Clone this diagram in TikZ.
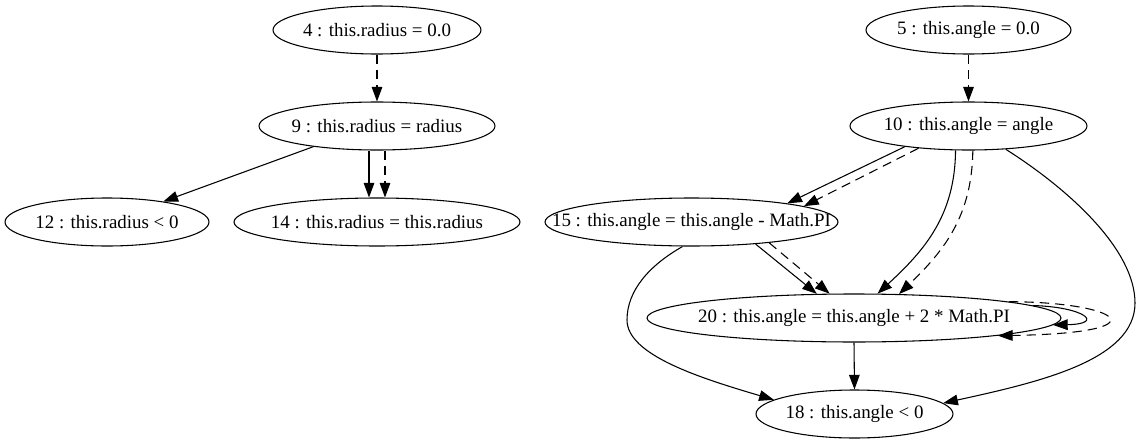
\documentclass[tikz,border=0pt]{standalone}
\usepackage{fontspec}
\setmainfont{Liberation Serif}
\usetikzlibrary{shapes.geometric,arrows.meta}
\newcommand{\lbl}[1]{\makebox[0pt]{#1}}
\begin{document}
\begin{tikzpicture}[x=0.75pt,y=-0.75pt,
  nd/.style={draw,ellipse,minimum height=36pt,inner sep=0pt,line width=0.8pt,
    font=\fontsize{14.2}{16}\selectfont},
  solidedge/.style={-{Triangle[length=11pt,width=8pt]},line width=0.8pt},
  dashedge/.style={solidedge,dash pattern=on 7pt off 4.5pt}]
\useasboundingbox[fill=white] (0,0) rectangle (1140,443);
% left component
\node[nd,minimum width=156pt]   (n4)  at (377,30)  {\lbl{4 : this.radius = 0.0}};
\node[nd,minimum width=177pt]   (n9)  at (377,126) {\lbl{9 : this.radius = radius}};
\node[nd,minimum width=153pt]   (n12) at (107,222) {\lbl{12 : this.radius < 0}};
\node[nd,minimum width=214.5pt] (n14) at (377,222) {\lbl{14 : this.radius = this.radius}};
% right component
\node[nd,minimum width=153.75pt] (n5)  at (968.5,30)  {\lbl{5 : this.angle = 0.0}};
\node[nd,minimum width=177.75pt] (n10) at (968.5,126) {\lbl{10 : this.angle = angle}};
\node[nd,minimum width=219.75pt] (n15) at (691.5,222) {\lbl{15 : this.angle = this.angle - Math.PI}};
\node[nd,minimum width=310.5pt]  (n20) at (854,318)   {\lbl{20 : this.angle = this.angle + 2 * Math.PI}};
\node[nd,minimum width=147.75pt] (n18) at (854.5,414) {\lbl{18 : this.angle < 0}};
% left edges
\draw[dashedge] (n4.south) -- (n9.north);
\draw[solidedge] (n9.198) -- (n12.20);
\draw[solidedge] ([xshift=-6pt]n9.south) -- ([xshift=-6pt]n14.north);
\draw[dashedge] ([xshift=6pt]n9.south) -- ([xshift=6pt]n14.north);
% right edges
\draw[dashedge] (n5.south) -- (n10.north);
\draw[solidedge] (n10.198.4) -- (n15.11.2);
\draw[dashedge] (n10.204.3) -- (n15.8.1);
\draw[solidedge] (n15.341.2) -- (n20.147.5);
\draw[dashedge] (n15.345.5) -- (n20.135.2);
\draw[solidedge] (n10.242.5) .. controls (955,215) and (925,250) .. (n20.46);
\draw[dashedge] (n10.280.6) .. controls (972,215) and (945,250) .. (n20.28.1);
\draw[solidedge] (n10.328) .. controls (1070,190) and (1135,250) .. (1135,303)
  .. controls (1135,360) and (1040,382) .. (n18.7.9);
\draw[solidedge] (n15.250.5) .. controls (650,265) and (627,290) .. (627,320)
  .. controls (627,355) and (700,378) .. (n18.170.6);
\draw[solidedge] (n20.south) -- (n18.north);
\draw[solidedge] (n20.4.9) .. controls (1085,307) and (1105,324) .. (n20.358.8);
\draw[dashedge] (n20.6.6) .. controls (1120,302) and (1166,333) .. (n20.353.1);
\end{tikzpicture}
\end{document}
